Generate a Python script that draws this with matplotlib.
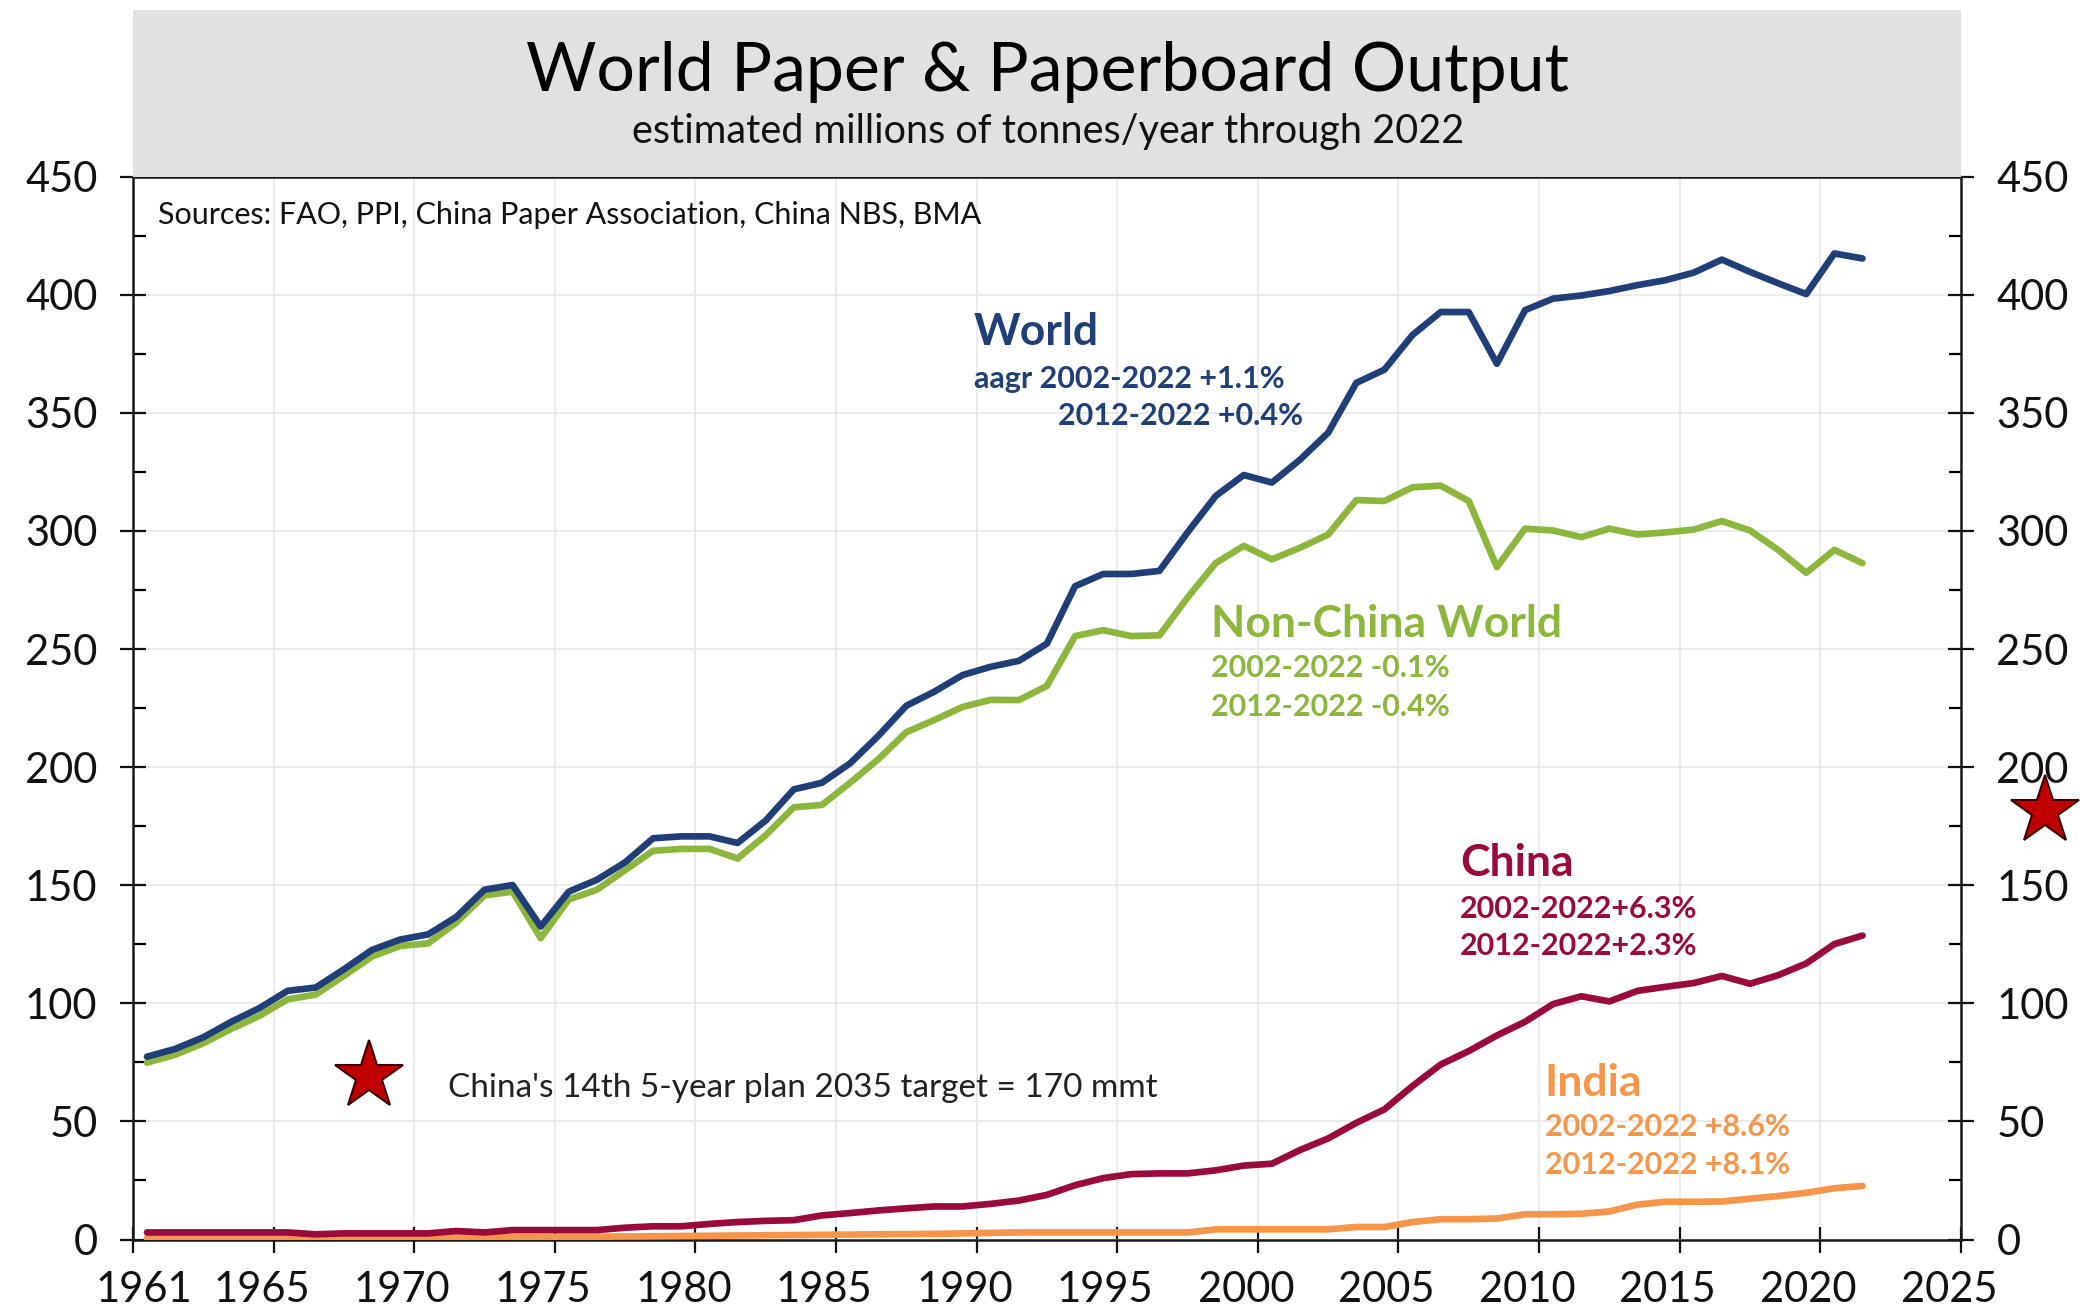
import matplotlib
matplotlib.use("Agg")
import matplotlib.pyplot as plt
import matplotlib.patches as mpatches
import matplotlib.transforms as mtransforms
import numpy as np

# ── Data (millions of tonnes / year) ───────────────────────────────────────────
years = np.arange(1961, 2023)

world = [
    77.4, 80.7, 85.6, 92.2, 98.0, 105.3, 106.7, 114.4, 122.6, 127.0,
    129.2, 136.6, 148.1, 150.1, 132.5, 147.3, 152.3, 159.7, 169.9, 170.7,
    170.7, 167.9, 177.4, 190.6, 193.4, 201.6, 213.2, 226.0, 232.0, 239.0,
    242.5, 245.0, 252.3, 276.6, 281.8, 281.8, 283.1, 299.4, 314.8, 323.7,
    320.5, 330.2, 341.6, 362.7, 368.3, 383.0, 392.7, 392.7, 370.8, 393.5,
    398.4, 399.7, 401.6, 404.1, 406.2, 409.4, 414.9, 409.7, 404.9, 400.3,
    417.5, 415.4,
]

non_china = [
    74.9, 78.2, 83.1, 89.2, 94.7, 101.7, 103.7, 111.6, 119.8, 124.3,
    125.4, 134.2, 145.7, 147.3, 127.6, 144.0, 148.1, 156.4, 164.6, 165.4,
    165.4, 161.3, 171.2, 183.0, 184.0, 193.4, 203.3, 214.8, 220.0, 225.5,
    228.5, 228.4, 234.4, 255.5, 258.0, 255.5, 255.8, 271.8, 286.4, 293.7,
    288.0, 292.9, 298.5, 313.1, 312.7, 318.5, 319.2, 312.7, 284.7, 301.0,
    300.2, 297.4, 301.0, 298.5, 299.4, 300.6, 304.2, 300.2, 292.0, 282.3,
    292.0, 286.4,
]

china = [
    3.0, 3.0, 3.0, 3.0, 3.0, 3.0, 2.2, 2.6, 2.6, 2.6,
    2.6, 3.6, 3.0, 4.0, 4.0, 4.0, 4.0, 5.0, 5.6, 5.6,
    6.6, 7.4, 7.9, 8.2, 10.2, 11.2, 12.3, 13.2, 14.0, 14.0,
    15.1, 16.5, 18.9, 23.0, 26.0, 27.7, 28.0, 28.0, 29.3, 31.3,
    32.1, 37.9, 42.8, 49.4, 55.1, 65.0, 74.1, 79.8, 86.4, 92.2,
    99.7, 103.0, 100.8, 105.3, 107.0, 108.6, 111.6, 108.3, 111.9, 116.9,
    125.1, 128.7,
]

india = [
    0.6, 0.6, 0.7, 0.7, 0.8, 0.8, 0.8, 0.9, 0.9, 1.0,
    1.0, 1.0, 1.1, 1.1, 1.1, 1.2, 1.2, 1.3, 1.4, 1.5,
    1.6, 1.7, 1.8, 1.9, 2.0, 2.1, 2.2, 2.3, 2.4, 2.6,
    2.8, 3.0, 3.0, 3.0, 3.0, 3.0, 3.0, 3.0, 4.3, 4.3,
    4.3, 4.3, 4.3, 5.3, 5.3, 7.4, 8.6, 8.6, 8.9, 10.7,
    10.7, 10.9, 11.9, 14.8, 16.0, 16.0, 16.1, 17.3, 18.4, 19.8,
    21.7, 22.7,
]

x_ticks = np.arange(1960, 2026, 5)
x_tick_labels = ["1961"] + [str(y) for y in x_ticks[1:]]
y_ticks = np.arange(0, 451, 50)

# ── Colours ───────────────────────────────────────────────────────────────────
NAVY = "#203F78"
GREEN = "#8DB63C"
CRIMSON = "#9A0A3C"
ORANGE = "#F7964A"
STAR_RED = "#C00000"
GRID = "#E9E9E9"
FONT = "Lato"

plt.rcParams["font.family"] = [FONT, "DejaVu Sans"]

fig = plt.figure(figsize=(20.83, 13.10), dpi=100)
ax = fig.add_axes([0.0638, 0.0538, 0.8776, 0.8113])

# Grey title banner above the plot area
fig.patches.append(mpatches.Rectangle((0.0638, 0.8651), 0.8776, 0.127,
                                      transform=fig.transFigure,
                                      facecolor="#E1E1E1", edgecolor="none", zorder=0))
fig.text(0.503, 0.945, "World Paper & Paperboard Output", ha="center", va="center",
         fontsize=49, color="black")
fig.text(0.503, 0.9, "estimated millions of tonnes/year through 2022", ha="center",
         va="center", fontsize=28.5, color="#111111")

# Excel-style category axis: each year is plotted mid-category
xs = years - 0.5
ax.plot(xs, india, color=ORANGE, lw=4.8, solid_capstyle="round", zorder=3)
ax.plot(xs, china, color=CRIMSON, lw=4.8, solid_capstyle="round", zorder=3)
ax.plot(xs, non_china, color=GREEN, lw=4.8, solid_capstyle="round", zorder=3)
ax.plot(xs, world, color=NAVY, lw=4.8, solid_capstyle="round", zorder=4)

ax.set_xlim(1960, 2025)
ax.set_ylim(0, 450)
ax.set_xticks(x_ticks)
ax.set_xticklabels(x_tick_labels)
ax.set_yticks(y_ticks)
ax.set_yticks(np.arange(25, 450, 50), minor=True)

ax.grid(True, which="major", color=GRID, lw=1.3, zorder=0)
ax.set_axisbelow(True)

for side in ["left", "right", "bottom", "top"]:
    ax.spines[side].set_color("#1A1A1A")
    ax.spines[side].set_linewidth(1.8)

ax.tick_params(axis="y", which="major", direction="inout", length=19, width=1.6,
               left=True, right=True, labelleft=True, labelright=True,
               labelsize=30, pad=16, colors="#111111")
ax.tick_params(axis="y", which="minor", direction="in", length=9, width=1.6,
               left=True, right=True)
ax.tick_params(axis="x", which="major", direction="inout", length=19, width=1.6,
               labelsize=30, pad=13, colors="#111111")
ax.tick_params(axis="x", which="minor", bottom=False)

# Excel nudges the year labels: first one right, the rest slightly left
for i, lbl in enumerate(ax.get_xticklabels()):
    dx = 0.11 if i == 0 else -0.12
    lbl.set_transform(lbl.get_transform() +
                      mtransforms.ScaledTranslation(dx, 0, fig.dpi_scale_trans))

# Source note
ax.text(1960.9, 434, "Sources: FAO, PPI, China Paper Association, China NBS, BMA",
        ha="left", va="center", fontsize=22, color="#111111")

# Series annotations
ax.text(1989.9, 384.3, "World", color=NAVY, fontsize=32, fontweight="bold",
        ha="left", va="center")
ax.text(1989.9, 364.3, "aagr 2002-2022 +1.1%", color=NAVY, fontsize=22,
        fontweight="bold", ha="left", va="center")
ax.text(2001.6, 348.6, "2012-2022 +0.4%", color=NAVY, fontsize=22,
        fontweight="bold", ha="right", va="center")

ax.text(1998.35, 260.6, "Non-China World", color=GREEN, fontsize=32,
        fontweight="bold", ha="left", va="center")
ax.text(1998.35, 241.9, "2002-2022 -0.1%", color=GREEN, fontsize=22,
        fontweight="bold", ha="left", va="center")
ax.text(1998.35, 225.5, "2012-2022 -0.4%", color=GREEN, fontsize=22,
        fontweight="bold", ha="left", va="center")

ax.text(2007.2, 159.4, "China", color=CRIMSON, fontsize=32, fontweight="bold",
        ha="left", va="center")
ax.text(2007.2, 139.9, "2002-2022+6.3%", color=CRIMSON, fontsize=22,
        fontweight="bold", ha="left", va="center")
ax.text(2007.2, 124.3, "2012-2022+2.3%", color=CRIMSON, fontsize=22,
        fontweight="bold", ha="left", va="center")

ax.text(2010.2, 66.3, "India", color=ORANGE, fontsize=32, fontweight="bold",
        ha="left", va="center")
ax.text(2010.2, 47.6, "2002-2022 +8.6%", color=ORANGE, fontsize=22,
        fontweight="bold", ha="left", va="center")
ax.text(2010.2, 31.5, "2012-2022 +8.1%", color=ORANGE, fontsize=22,
        fontweight="bold", ha="left", va="center")

# 2035 target note with star markers
ax.plot([1968.4], [69.2], marker="*", markersize=52, color=STAR_RED,
        markeredgecolor="#3A0000", markeredgewidth=1.5, zorder=5)
ax.text(1971.2, 64, "China's 14th 5-year plan 2035 target = 170 mmt", ha="left",
        va="center", fontsize=24, color="#222222")
ax.plot([2028.0], [181.5], marker="*", markersize=52, color=STAR_RED,
        markeredgecolor="#3A0000", markeredgewidth=1.5, zorder=5, clip_on=False)

fig.savefig("out.png", dpi=100)
